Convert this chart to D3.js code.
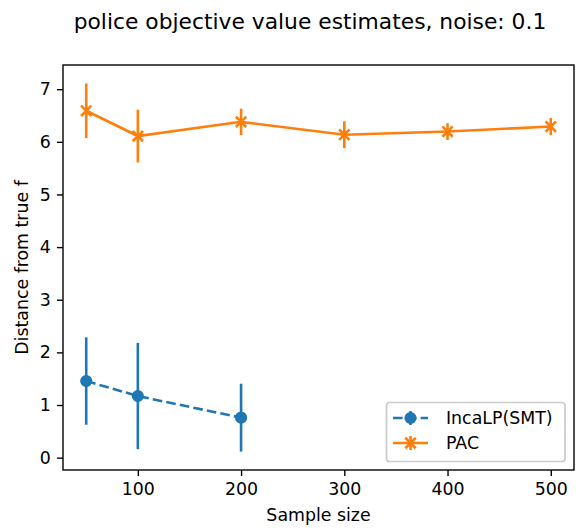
<!DOCTYPE html>
<html><head><meta charset="utf-8">
<script src="https://cdn.jsdelivr.net/npm/d3@7"></script>
<style>body{margin:0;background:#fff}svg{display:block;font-family:"DejaVu Sans",sans-serif}</style>
</head><body>
<svg id="c" width="577" height="529"></svg>
<script>
const title = "police objective value estimates, noise: 0.1";
const xLabel = "Sample size";
const yLabel = "Distance from true f";
const incaX = [50, 100, 200];
const incaY = [1.455, 1.17, 0.76];
const incaErr = [0.83, 1.01, 0.645];
const pacX = [50, 100, 200, 300, 400, 500];
const pacY = [6.59, 6.11, 6.38, 6.135, 6.195, 6.29];
const pacErr = [0.52, 0.50, 0.25, 0.255, 0.16, 0.165];
const xTicks = [100, 200, 300, 400, 500];
const yTicks = [0, 1, 2, 3, 4, 5, 6, 7];
const seriesNames = ["IncaLP(SMT)", "PAC"];
const colors = ["#1f77b4", "#ff7f0e"];

const pt = 125/72;
const svg = d3.select("#c");
const L = 63, R = 574, T = 65, B = 470;

const allX = incaX.concat(pacX);
const xmin = d3.min(allX), xmax = d3.max(allX), xr = xmax - xmin;
const lows = incaY.map((v,i)=>v-incaErr[i]).concat(pacY.map((v,i)=>v-pacErr[i]));
const highs = incaY.map((v,i)=>v+incaErr[i]).concat(pacY.map((v,i)=>v+pacErr[i]));
const ymin = d3.min(lows), ymax = d3.max(highs), yr = ymax - ymin;
const x = d3.scaleLinear().domain([xmin - 0.05*xr, xmax + 0.05*xr]).range([L, R]);
const y = d3.scaleLinear().domain([ymin - 0.05*yr, ymax + 0.05*yr]).range([B, T]);

const fs = 10*pt;
// axes
const xAxis = svg.append("g").attr("transform", `translate(0,${B})`)
  .call(d3.axisBottom(x).tickValues(xTicks).tickSize(3.5*pt).tickPadding(3.5*pt).tickFormat(d3.format("d")));
const yAxis = svg.append("g").attr("transform", `translate(${L},0)`)
  .call(d3.axisLeft(y).tickValues(yTicks).tickSize(3.5*pt).tickPadding(3.5*pt).tickFormat(d3.format("d")));
[xAxis, yAxis].forEach(g => {
  g.select(".domain").remove();
  g.selectAll(".tick line").attr("stroke", "#000").attr("stroke-width", 0.8*pt);
  g.selectAll(".tick text").attr("font-size", fs).attr("fill", "#000").attr("font-family", "DejaVu Sans");
});
xAxis.selectAll(".tick text").attr("dy", "0.76em");

// data
const g = svg.append("g");
function drawSeries(xs, ys, es, color, dashed, marker) {
  const line = d3.line().x((d,i)=>x(xs[i])).y(d=>y(d));
  g.append("path").attr("d", line(ys)).attr("fill","none").attr("stroke", color)
    .attr("stroke-width", 1.5*pt).attr("stroke-dasharray", dashed ? `${3.7*1.5*pt},${1.6*1.5*pt}` : null);
  ys.forEach((v,i) => {
    g.append("line").attr("x1", x(xs[i])).attr("x2", x(xs[i]))
      .attr("y1", y(v-es[i])).attr("y2", y(v+es[i])).attr("stroke", color).attr("stroke-width", 1.5*pt);
  });
  ys.forEach((v,i) => drawMarker(g, x(xs[i]), y(v), color, marker));
}
function drawMarker(sel, cx, cy, color, marker) {
  const s = 6*pt;
  if (marker === "o") {
    sel.append("circle").attr("cx", cx).attr("cy", cy).attr("r", s/2).attr("fill", color).attr("stroke", color).attr("stroke-width", 1*pt);
  } else {
    const h = s/2;
    sel.append("path").attr("d", `M${cx-h},${cy-h}L${cx+h},${cy+h}M${cx-h},${cy+h}L${cx+h},${cy-h}`)
      .attr("stroke", color).attr("stroke-width", 1.5*pt).attr("fill", "none");
  }
}
drawSeries(incaX, incaY, incaErr, colors[0], true, "o");
drawSeries(pacX, pacY, pacErr, colors[1], false, "x");

// frame
svg.append("rect").attr("x", L).attr("y", T).attr("width", R-L).attr("height", B-T)
  .attr("fill", "none").attr("stroke", "#000").attr("stroke-width", 0.8*pt);

// labels
svg.append("text").attr("x", 310).attr("y", 29).attr("text-anchor", "middle")
  .attr("font-size", 21.8).text(title);
svg.append("text").attr("x", (L+R)/2).attr("y", 521).attr("text-anchor", "middle")
  .attr("font-size", fs).text(xLabel);
svg.append("text").attr("transform", `translate(28,${(T+B)/2}) rotate(-90)`).attr("text-anchor", "middle")
  .attr("font-size", fs).text(yLabel);

// legend
const lg = svg.append("g");
lg.append("rect").attr("x", 386.5).attr("y", 402.5).attr("width", 178.5).attr("height", 59)
  .attr("rx", 3).attr("fill", "#fff").attr("fill-opacity", 0.8).attr("stroke", "#cccccc").attr("stroke-width", 1*pt);
const legY = [418, 443];
const markers = ["o", "x"];
seriesNames.forEach((name, i) => {
  const yy = legY[i], x0 = 393, x1 = 428, xm = (x0+x1)/2;
  lg.append("line").attr("x1", x0).attr("x2", x1).attr("y1", yy).attr("y2", yy)
    .attr("stroke", colors[i]).attr("stroke-width", 1.5*pt)
    .attr("stroke-dasharray", i === 0 ? `${3.7*1.5*pt},${1.6*1.5*pt}` : null);
  lg.append("line").attr("x1", xm).attr("x2", xm).attr("y1", yy-7).attr("y2", yy+7)
    .attr("stroke", colors[i]).attr("stroke-width", 1.5*pt);
  drawMarker(lg, xm, yy, colors[i], markers[i]);
  lg.append("text").attr("x", 446).attr("y", yy).attr("dy", "0.36em").attr("font-size", fs).text(name);
});
</script>
</body></html>
